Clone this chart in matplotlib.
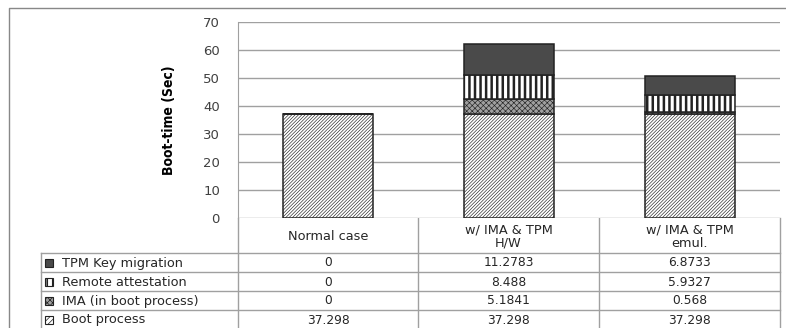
import matplotlib.pyplot as plt
import matplotlib.patches as mpatches

cases = ['Normal case', 'w/ IMA & TPM\nH/W', 'w/ IMA & TPM\nemul.']
boot = [37.298, 37.298, 37.298]
ima = [0, 5.1841, 0.568]
remote = [0, 8.488, 5.9327]
tpm_key = [0, 11.2783, 6.8733]

series = [
    ('Boot process', boot, 'white', '/' * 10),
    ('IMA (in boot process)', ima, '#a0a0a0', 'xxxxxx'),
    ('Remote attestation', remote, 'white', '|||'),
    ('TPM Key migration', tpm_key, '#4a4a4a', None),
]
yticks = list(range(0, 71, 10))

W, H = 786, 328
fig = plt.figure(figsize=(W / 100, H / 100), dpi=100)
plt.rcParams['font.family'] = 'DejaVu Sans'
grid_c = '#a0a0a0'
txt_c = '#262626'

# pixel layout
x0, x1 = 238, 780
y_top, y_zero = 22, 218
ax = fig.add_axes([x0 / W, 1 - y_zero / H, (x1 - x0) / W, (y_zero - y_top) / H])

xs = range(len(cases))
bottom = [0, 0, 0]
for name, vals, fc, hatch in series:
    lw = 1.8 if hatch == '|||' else 0.45
    with plt.rc_context({'hatch.linewidth': lw, 'hatch.color': 'black'}):
        ax.bar(xs, vals, width=0.5, bottom=bottom, color=fc, hatch=hatch,
               edgecolor='#222222', linewidth=1.1, zorder=3)
    bottom = [b + v for b, v in zip(bottom, vals)]

ax.set_xlim(-0.5, len(cases) - 0.5)
ax.set_ylim(0, 70)
ax.set_yticks(yticks)
ax.set_xticks([])
ax.yaxis.grid(True, color=grid_c, linewidth=1)
ax.set_axisbelow(True)
for s in ['top', 'right', 'bottom']:
    ax.spines[s].set_visible(False)
ax.spines['left'].set_color(grid_c)
ax.tick_params(axis='y', length=0, pad=13, labelsize=9.5, labelcolor='#404040')
ax.set_ylabel('Boot-time (Sec)', fontsize=10, fontweight='bold',
              fontstretch='condensed', family='DejaVu Sans', color='black')
ax.yaxis.set_label_coords(-(x0 - 176) / (x1 - x0), 0.5)

# table + frame overlay in pixel coords
ov = fig.add_axes([0, 0, 1, 1], zorder=-1)
ov.set_xlim(0, W)
ov.set_ylim(H, 0)
ov.axis('off')

# outer chart border
ov.plot([9, 9, W + 5], [H + 5, 8, 8], color='#888888', lw=1)

cols = [238, 418, 599, 780]
lab_x0 = 41
hdr_bot = 253
row_h = 19
rows = list(reversed(series))
fs = 9.3
# header
for c in cols:
    ov.plot([c, c], [y_zero, H + 5], color=grid_c, lw=1)
ov.plot([lab_x0, lab_x0], [hdr_bot, H + 5], color=grid_c, lw=1)
for i, name in enumerate(cases):
    cx = (cols[i] + cols[i + 1]) / 2
    ov.text(cx, (y_zero + hdr_bot) / 2 + 1, name, ha='center', va='center',
            fontsize=fs, color=txt_c, linespacing=1.05)
for r, (name, vals, fc, hatch) in enumerate(rows):
    ytop = hdr_bot + r * row_h
    ov.plot([lab_x0, cols[-1]], [ytop, ytop], color=grid_c, lw=1)
    yc = ytop + row_h / 2
    lw = 1.2 if hatch == '|||' else 0.5
    h2 = '//////' if hatch and '/' in hatch else hatch
    with plt.rc_context({'hatch.linewidth': lw, 'hatch.color': 'black'}):
        ov.add_patch(mpatches.Rectangle((45, yc - 4), 8, 8, facecolor=fc,
                                        hatch=h2, edgecolor='#222222', lw=0.8))
    ov.text(62, yc + 0.5, name, ha='left', va='center', fontsize=fs, color=txt_c)
    for i, v in enumerate(vals):
        cx = (cols[i] + cols[i + 1]) / 2
        ov.text(cx, yc + 0.5, '{:g}'.format(v), ha='center', va='center',
                fontsize=8.8, color=txt_c)

fig.savefig('out.png', dpi=100)
